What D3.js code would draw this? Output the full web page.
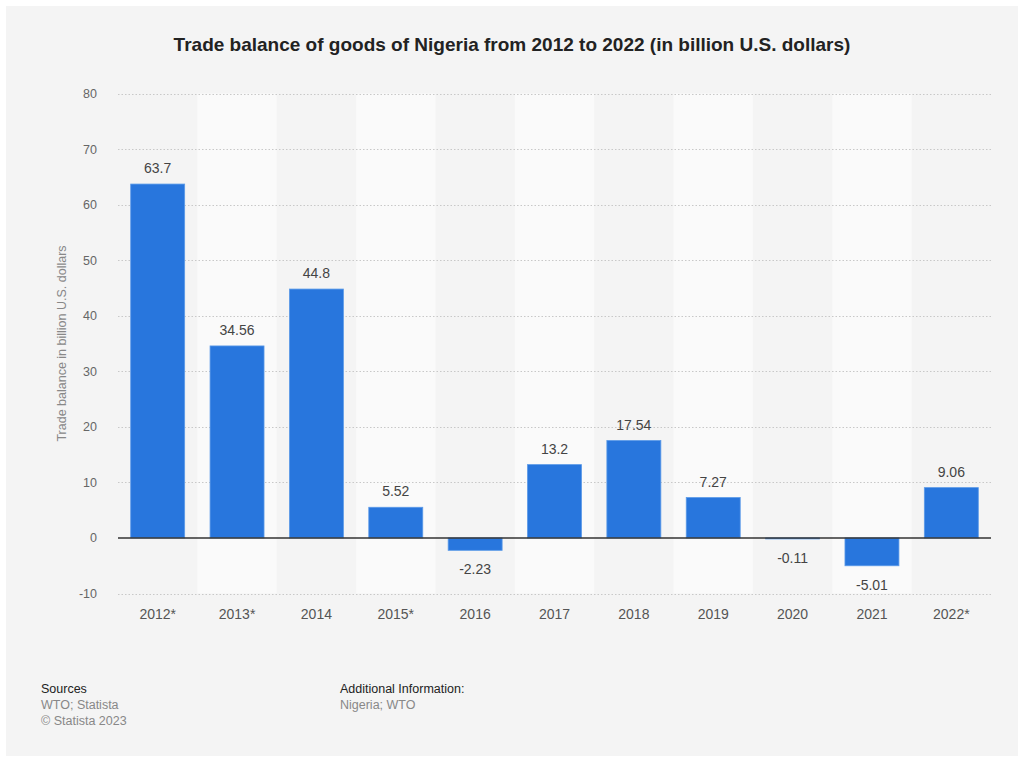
<!DOCTYPE html>
<html>
<head>
<meta charset="utf-8">
<script src="https://cdn.jsdelivr.net/npm/d3@7"></script>
<style>
  html, body { margin: 0; padding: 0; background: #ffffff; }
  svg { display: block; font-family: "Liberation Sans", Arial, Helvetica, sans-serif; }
</style>
</head>
<body>
<svg id="chart" width="1024" height="760"></svg>
<script>
// Trade balance of goods, Nigeria (billion U.S. dollars)
const years = ["2012*", "2013*", "2014", "2015*", "2016", "2017", "2018", "2019", "2020", "2021", "2022*"];
const balance = [63.7, 34.56, 44.8, 5.52, -2.23, 13.2, 17.54, 7.27, -0.11, -5.01, 9.06];
const yTicks = [-10, 0, 10, 20, 30, 40, 50, 60, 70, 80];

const svg = d3.select("#chart");
const W = 1024, H = 760;

// panel background
svg.append("rect").attr("x", 6).attr("y", 6).attr("width", W - 12).attr("height", H - 10)
  .attr("fill", "#f4f4f4");

const plot = { left: 118, right: 991, top: 94, bottom: 594 };

const x = d3.scaleBand().domain(years).range([plot.left, plot.right]).paddingInner(0.32).paddingOuter(0.16);
const y = d3.scaleLinear().domain([-10, 80]).range([593.5, 93.5]);

// alternating column bands
const step = x.step();
svg.append("g").selectAll("rect")
  .data(years.filter((d, i) => i % 2 === 1))
  .join("rect")
  .attr("x", d => x(d) + x.bandwidth() / 2 - step / 2)
  .attr("width", step)
  .attr("y", y(80))
  .attr("height", y(-10) - y(80))
  .attr("fill", "#fafafa");

// dotted grid lines
svg.append("g").selectAll("line")
  .data(yTicks.filter(t => t !== 0))
  .join("line")
  .attr("x1", plot.left).attr("x2", plot.right)
  .attr("y1", d => Math.round(y(d)) + 0.5).attr("y2", d => Math.round(y(d)) + 0.5)
  .attr("stroke", "#c8c8c8").attr("stroke-width", 1).attr("stroke-dasharray", "1.5,2");

// y axis tick labels
const yAxis = d3.axisLeft(y).tickValues(yTicks).tickSize(0).tickPadding(0)
  .tickFormat(d => String(d));
const gy = svg.append("g").attr("transform", `translate(97,0)`).call(yAxis);
gy.select(".domain").remove();
gy.selectAll("text").attr("fill", "#666").attr("font-size", 12.5)
  .attr("font-family", "'Liberation Sans', Arial, sans-serif");

// x axis labels
const xAxis = d3.axisBottom(x).tickSize(0).tickPadding(0);
const gx = svg.append("g").attr("transform", `translate(0,609)`).call(xAxis);
gx.select(".domain").remove();
gx.selectAll("text").attr("fill", "#555").attr("font-size", 14)
  .attr("font-family", "'Liberation Sans', Arial, sans-serif");

// bars
svg.append("g").selectAll("rect")
  .data(years.map((d, i) => ({ year: d, value: balance[i] })))
  .join("rect")
  .attr("x", d => x(d.year))
  .attr("width", x.bandwidth())
  .attr("y", d => y(Math.max(0, d.value)))
  .attr("height", d => Math.max(1, Math.abs(y(d.value) - y(0))))
  .attr("fill", "#2876dd")
  .attr("stroke", "#5b9ae8").attr("stroke-width", 0.8);

// zero line
svg.append("line")
  .attr("x1", plot.left).attr("x2", plot.right)
  .attr("y1", y(0)).attr("y2", y(0))
  .attr("stroke", "#333").attr("stroke-width", 1.4);

// value labels
svg.append("g").selectAll("text")
  .data(years.map((d, i) => ({ year: d, value: balance[i] })))
  .join("text")
  .attr("x", d => x(d.year) + x.bandwidth() / 2)
  .attr("y", d => d.value >= 0 ? y(d.value) - 11 : y(d.value) + 24)
  .attr("text-anchor", "middle")
  .attr("fill", "#444").attr("font-size", 14)
  .text(d => d.value);

// y axis title
svg.append("text")
  .attr("transform", `translate(66,${(y(80) + y(-10)) / 2}) rotate(-90)`)
  .attr("text-anchor", "middle")
  .attr("fill", "#888").attr("font-size", 12.5)
  .text("Trade balance in billion U.S. dollars");

// title
svg.append("text")
  .attr("x", 512).attr("y", 51)
  .attr("text-anchor", "middle")
  .attr("fill", "#222").attr("font-size", 19).attr("font-weight", "bold")
  .text("Trade balance of goods of Nigeria from 2012 to 2022 (in billion U.S. dollars)");

// footer
const foot = svg.append("g").attr("font-size", 12.5);
foot.append("text").attr("x", 41).attr("y", 693).attr("fill", "#222").text("Sources");
foot.append("text").attr("x", 41).attr("y", 709).attr("fill", "#888").text("WTO; Statista");
foot.append("text").attr("x", 41).attr("y", 725).attr("fill", "#888").text("© Statista 2023");
foot.append("text").attr("x", 340).attr("y", 693).attr("fill", "#222").text("Additional Information:");
foot.append("text").attr("x", 340).attr("y", 709).attr("fill", "#888").text("Nigeria; WTO");
</script>
</body>
</html>
